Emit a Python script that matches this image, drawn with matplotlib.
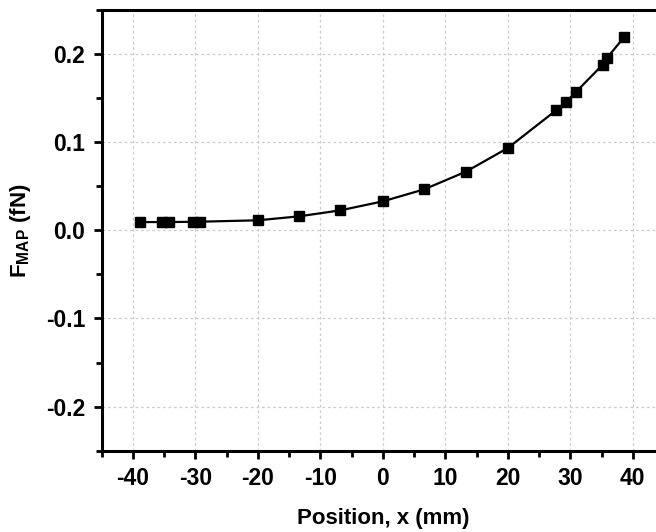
import matplotlib
matplotlib.use("Agg")
import matplotlib.pyplot as plt
from matplotlib.ticker import MultipleLocator, FormatStrFormatter

plt.rcParams['font.family'] = ['Liberation Sans', 'DejaVu Sans']
plt.rcParams['font.weight'] = 'bold'
plt.rcParams['axes.unicode_minus'] = False
plt.rcParams['mathtext.fontset'] = 'custom'
plt.rcParams['mathtext.rm'] = 'Liberation Sans:bold'
plt.rcParams['mathtext.bf'] = 'Liberation Sans:bold'

position_mm = [-38.8, -35.4, -34.3, -30.4, -29.3, -20.0, -13.4, -6.8, 0.0, 6.6,
               13.3, 20.0, 27.7, 29.3, 30.9, 35.2, 35.8, 38.6]
f_map_fN = [0.0094, 0.0094, 0.0094, 0.0097, 0.0098, 0.0114, 0.0159, 0.0227, 0.0329, 0.0465,
            0.0666, 0.0934, 0.136, 0.1456, 0.157, 0.188, 0.195, 0.219]

xlabel = "Position, x (mm)"
ylabel = r"F$_{\mathrm{MAP}}$ (fN)"

fig = plt.figure(figsize=(6.56, 5.32), dpi=100)
ax = fig.add_axes([101.7 / 656, 1 - 450.7 / 532, (664 - 101.7) / 656, (450.7 - 10) / 532])

ax.plot(position_mm, f_map_fN, color='black', lw=1.6, marker='s', markersize=6.5,
        markerfacecolor='black', markeredgecolor='black', zorder=3)

ax.set_xlim(-45, 45)
ax.set_ylim(-0.25, 0.25)
ax.xaxis.set_major_locator(MultipleLocator(10))
ax.xaxis.set_minor_locator(MultipleLocator(5))
ax.yaxis.set_major_locator(MultipleLocator(0.1))
ax.yaxis.set_minor_locator(MultipleLocator(0.05))
ax.yaxis.set_major_formatter(FormatStrFormatter('%.1f'))

ax.grid(True, which='major', color='#cccccc', linestyle=(0, (2.2, 2.2)), linewidth=0.9)
ax.set_axisbelow(True)

for s in ['left', 'bottom', 'top', 'right']:
    ax.spines[s].set_linewidth(2.2)

ax.tick_params(axis='both', which='major', direction='out', length=6, width=2,
               labelsize=16.5, pad=6, top=False, right=False)
ax.tick_params(axis='both', which='minor', direction='out', length=4, width=2,
               top=False, right=False)
for lab in ax.get_xticklabels() + ax.get_yticklabels():
    lab.set_fontweight('bold')

ax.set_xlabel(xlabel, fontsize=16, fontweight='bold', labelpad=13)
ax.set_ylabel(ylabel, fontsize=16, fontweight='bold', labelpad=9)

fig.savefig("out.png", dpi=100)
